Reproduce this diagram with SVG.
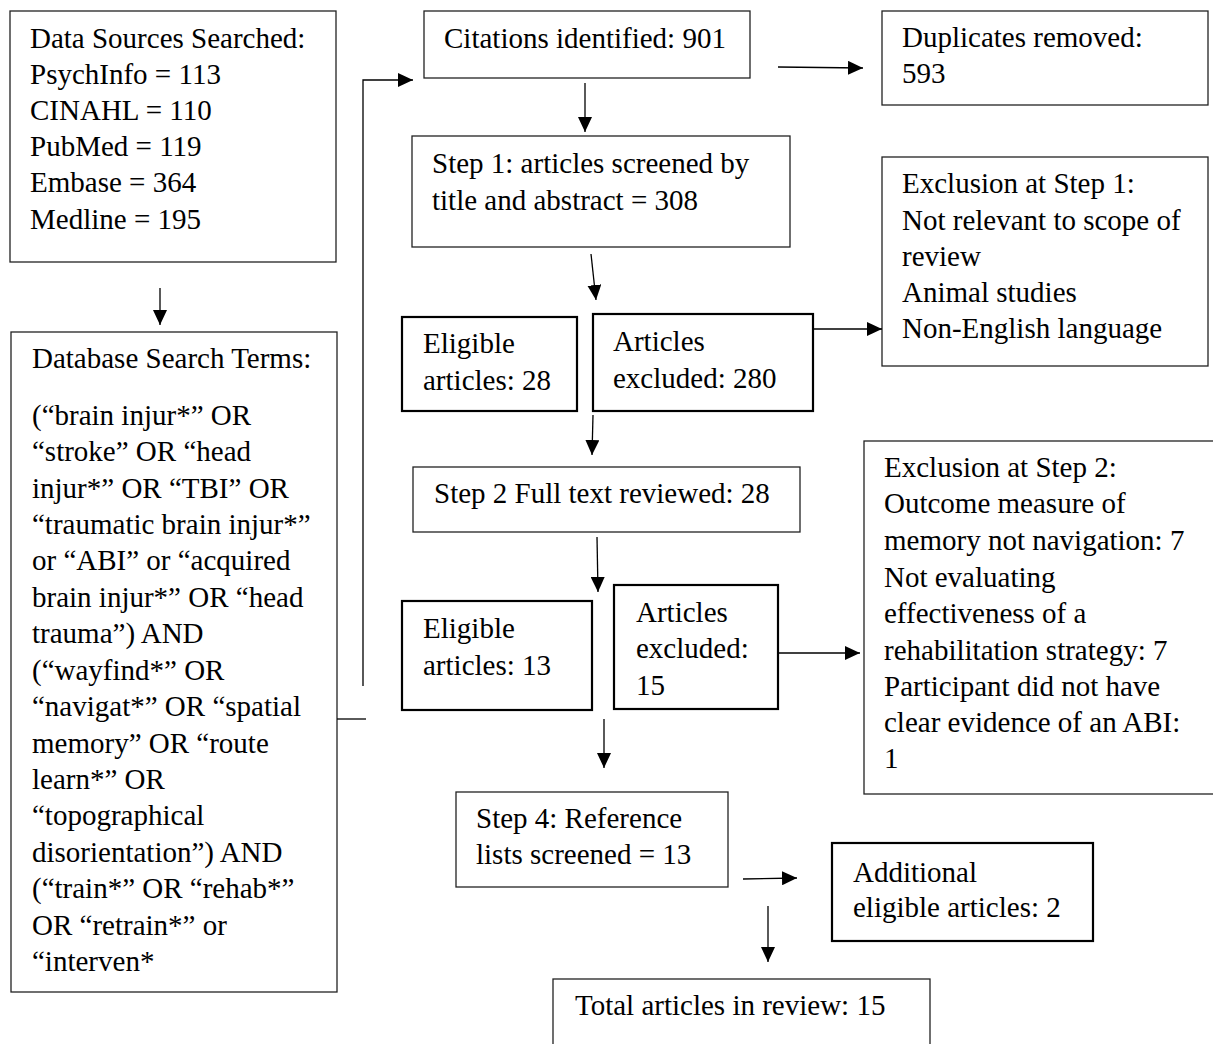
<svg xmlns="http://www.w3.org/2000/svg" width="1213" height="1044" viewBox="0 0 1213 1044">
<style>
  .box { fill: #fff; stroke: #222; stroke-width: 1.3; }
  .thick { stroke: #000; stroke-width: 2.2; }
  text { font-family: "Liberation Serif", "Times New Roman", serif; font-size: 29px; fill: #000; }
  .conn { stroke: #000; stroke-width: 1.3; fill: none; }
</style>
<defs>
  <marker id="arr" viewBox="0 0 15 14" refX="15" refY="7" markerWidth="15" markerHeight="14" markerUnits="userSpaceOnUse" orient="auto">
    <path d="M0,0 L15,7 L0,14 z" fill="#000"/>
  </marker>
</defs>
<rect width="1213" height="1044" fill="#fff"/>

<g id="data-sources">
  <rect class="box" x="10" y="11" width="326" height="251"/>
  <text x="30" y="48">Data Sources Searched:</text>
  <text x="30" y="84">PsychInfo = 113</text>
  <text x="30" y="120">CINAHL = 110</text>
  <text x="30" y="156">PubMed = 119</text>
  <text x="30" y="192">Embase = 364</text>
  <text x="30" y="229">Medline = 195</text>
</g>

<g id="search-terms">
  <rect class="box" x="11" y="332" width="326" height="660"/>
  <text x="32" y="368">Database Search Terms:</text>
  <text x="32" y="425">(“brain injur*” OR</text>
  <text x="32" y="461">“stroke” OR “head</text>
  <text x="32" y="498">injur*” OR “TBI” OR</text>
  <text x="32" y="534">“traumatic brain injur*”</text>
  <text x="32" y="570">or “ABI” or “acquired</text>
  <text x="32" y="607">brain injur*” OR “head</text>
  <text x="32" y="643">trauma”) AND</text>
  <text x="32" y="680">(“wayfind*” OR</text>
  <text x="32" y="716">“navigat*” OR “spatial</text>
  <text x="32" y="753">memory” OR “route</text>
  <text x="32" y="789">learn*” OR</text>
  <text x="32" y="825">“topographical</text>
  <text x="32" y="862">disorientation”) AND</text>
  <text x="32" y="898">(“train*” OR “rehab*”</text>
  <text x="32" y="935">OR “retrain*” or</text>
  <text x="32" y="971">“interven*</text>
</g>

<g id="citations">
  <rect class="box" x="424" y="11" width="326" height="67"/>
  <text x="444" y="48">Citations identified: 901</text>
</g>

<g id="duplicates">
  <rect class="box" x="882" y="11" width="326" height="94"/>
  <text x="902" y="47">Duplicates removed:</text>
  <text x="902" y="83">593</text>
</g>

<g id="step1">
  <rect class="box" x="412" y="136" width="378" height="111"/>
  <text x="432" y="173">Step 1: articles screened by</text>
  <text x="432" y="210">title and abstract = 308</text>
</g>

<g id="exclusion1">
  <rect class="box" x="882" y="157" width="326" height="209"/>
  <text x="902" y="193">Exclusion at Step 1:</text>
  <text x="902" y="230">Not relevant to scope of</text>
  <text x="902" y="266">review</text>
  <text x="902" y="302">Animal studies</text>
  <text x="902" y="338">Non-English language</text>
</g>

<g id="eligible28">
  <rect class="box thick" x="402" y="317" width="175" height="94"/>
  <text x="423" y="353">Eligible</text>
  <text x="423" y="390">articles: 28</text>
</g>

<g id="excluded280">
  <rect class="box thick" x="593" y="314" width="220" height="97"/>
  <text x="613" y="351">Articles</text>
  <text x="613" y="388">excluded: 280</text>
</g>

<g id="step2">
  <rect class="box" x="413" y="467" width="387" height="65"/>
  <text x="434" y="503">Step 2 Full text reviewed: 28</text>
</g>

<g id="eligible13">
  <rect class="box thick" x="402" y="601" width="190" height="109"/>
  <text x="423" y="638">Eligible</text>
  <text x="423" y="675">articles: 13</text>
</g>

<g id="excluded15">
  <rect class="box thick" x="614" y="585" width="164" height="124"/>
  <text x="636" y="622">Articles</text>
  <text x="636" y="658">excluded:</text>
  <text x="636" y="695">15</text>
</g>

<g id="exclusion2">
  <rect class="box" x="864" y="441" width="360" height="353"/>
  <text x="884" y="477">Exclusion at Step 2:</text>
  <text x="884" y="513">Outcome measure of</text>
  <text x="884" y="550">memory not navigation: 7</text>
  <text x="884" y="587">Not evaluating</text>
  <text x="884" y="623">effectiveness of a</text>
  <text x="884" y="660">rehabilitation strategy: 7</text>
  <text x="884" y="696">Participant did not have</text>
  <text x="884" y="732">clear evidence of an ABI:</text>
  <text x="884" y="768">1</text>
</g>

<g id="step4">
  <rect class="box" x="456" y="792" width="272" height="95"/>
  <text x="476" y="828">Step 4: Reference</text>
  <text x="476" y="864">lists screened = 13</text>
</g>

<g id="additional">
  <rect class="box thick" x="832" y="843" width="261" height="98"/>
  <text x="853" y="882">Additional</text>
  <text x="853" y="917">eligible articles: 2</text>
</g>

<g id="total">
  <rect class="box" x="553" y="979" width="377" height="80"/>
  <text x="575" y="1015">Total articles in review: 15</text>
</g>

<g id="connectors">
  <line class="conn" x1="160" y1="288" x2="160" y2="325" marker-end="url(#arr)"/>
  <line class="conn" x1="337" y1="719" x2="366" y2="719"/>
  <path class="conn" d="M363,686 V80 H413" marker-end="url(#arr)"/>
  <line class="conn" x1="778" y1="67" x2="863" y2="68" marker-end="url(#arr)"/>
  <line class="conn" x1="585" y1="83" x2="585" y2="132" marker-end="url(#arr)"/>
  <line class="conn" x1="591" y1="254" x2="596" y2="300" marker-end="url(#arr)"/>
  <line class="conn" x1="813" y1="329" x2="882" y2="329" marker-end="url(#arr)"/>
  <line class="conn" x1="593" y1="415" x2="592" y2="455" marker-end="url(#arr)"/>
  <line class="conn" x1="597" y1="537" x2="598" y2="592" marker-end="url(#arr)"/>
  <line class="conn" x1="777" y1="653" x2="860" y2="653" marker-end="url(#arr)"/>
  <line class="conn" x1="604" y1="719" x2="604" y2="768" marker-end="url(#arr)"/>
  <line class="conn" x1="743" y1="879" x2="797" y2="878" marker-end="url(#arr)"/>
  <line class="conn" x1="768" y1="906" x2="768" y2="962" marker-end="url(#arr)"/>
</g>
</svg>
